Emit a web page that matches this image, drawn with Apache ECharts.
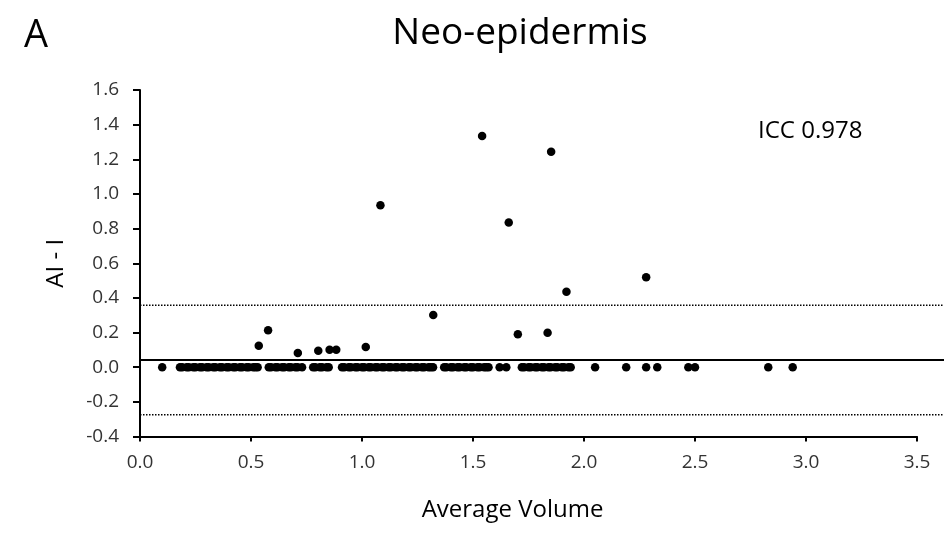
<!DOCTYPE html>
<html>
<head>
<meta charset="utf-8">
<script src="https://cdn.jsdelivr.net/npm/echarts@6/dist/echarts.min.js"></script>
<style>html,body{margin:0;padding:0;background:#fff}#c{width:948px;height:535px}</style>
</head>
<body>
<div id="c"></div>
<script>
// Average volume (x) and AI - I difference (y) for points off zero
const offZeroX = [1.541, 1.852, 1.661, 1.921, 2.280, 1.702, 1.836, 0.535, 0.577, 0.711, 0.803, 0.854, 0.884, 1.017, 1.321, 1.083];
const offZeroY = [1.334, 1.243, 0.835, 0.436, 0.519, 0.190, 0.199, 0.124, 0.213, 0.082, 0.095, 0.101, 0.101, 0.116, 0.301, 0.935];
// Average volume of points with zero difference
const zeroX = [0.10,
  0.18, 0.19, 0.21, 0.22, 0.24, 0.25, 0.27, 0.28, 0.30, 0.31, 0.33, 0.34, 0.36, 0.37, 0.39, 0.40, 0.42, 0.43, 0.45, 0.46, 0.48, 0.49, 0.51, 0.52, 0.53,
  0.58, 0.59, 0.61, 0.62, 0.64, 0.65, 0.67, 0.68, 0.70, 0.71, 0.73,
  0.78, 0.79, 0.81, 0.82, 0.84, 0.85,
  0.91, 0.92, 0.94, 0.95, 0.97, 0.98, 1.00, 1.01, 1.03, 1.04, 1.06, 1.07, 1.09, 1.10, 1.12, 1.13, 1.15, 1.16, 1.18, 1.19, 1.21, 1.22, 1.24, 1.25, 1.27, 1.28, 1.30, 1.31, 1.32,
  1.37, 1.38, 1.40, 1.41, 1.43, 1.44, 1.46, 1.47, 1.49, 1.50, 1.52, 1.53, 1.55, 1.56, 1.57,
  1.62, 1.65,
  1.72, 1.73, 1.75, 1.76, 1.78, 1.79, 1.81, 1.82, 1.84, 1.85, 1.87, 1.88, 1.90, 1.91, 1.93, 1.94,
  2.05, 2.19, 2.28, 2.33, 2.47, 2.50, 2.83, 2.94];
// Bias and limits of agreement
const meanDiff = 0.042;
const upperLoA = 0.358;
const lowerLoA = -0.274;
const lineSpanX = [0, 3.624];
// Axis settings
const xRange = [0, 3.5, 0.5];
const yRange = [-0.4, 1.6, 0.2];
const titleText = 'Neo-epidermis';
const panelText = 'A';
const iccText = 'ICC 0.978';
const xName = 'Average Volume';
const yName = 'AI - I';

const pts = [];
offZeroX.forEach((x, i) => pts.push([x, offZeroY[i]]));
zeroX.forEach(x => pts.push([x, 0]));

const font = 'Open Sans';
const chart = echarts.init(document.getElementById('c'), null, {renderer: 'canvas'});
const hLine = (v, type, w) => ({
  type: 'line', xAxisIndex: 1, yAxisIndex: 1, silent: true, showSymbol: false, symbol: 'none',
  data: [[lineSpanX[0], v], [lineSpanX[1], v]],
  lineStyle: {color: '#000', width: w, type: type}, z: 1
});
chart.setOption({
  animation: false,
  backgroundColor: '#fff',
  title: [
    {text: panelText, left: 19, top: 12, textStyle: {fontFamily: font, fontSize: 38, fontWeight: 'normal', color: '#000'}},
    {text: titleText, left: 515, textAlign: 'center', top: 10, textStyle: {fontFamily: font, fontSize: 37, fontWeight: 'normal', color: '#000'}},
    {text: iccText, left: 753, top: 114, textStyle: {fontFamily: font, fontSize: 24, fontWeight: 'normal', color: '#000'}}
  ],
  grid: [
    {left: 140, right: 31, top: 90, bottom: 98.5, containLabel: false},
    {left: 140, right: 4, top: 90, bottom: 98.5, containLabel: false}
  ],
  xAxis: [{
    type: 'value', gridIndex: 0, min: xRange[0], max: xRange[1], interval: xRange[2],
    name: xName, nameLocation: 'middle', nameGap: 62,
    nameTextStyle: {fontFamily: font, fontSize: 24, color: '#000', padding: [0, 32, 0, 0]},
    axisLine: {show: true, onZero: false, lineStyle: {color: '#000', width: 2}},
    axisTick: {show: true, inside: false, length: 5, lineStyle: {color: '#000', width: 2}},
    axisLabel: {fontFamily: font, fontSize: 19, color: '#333', margin: 17, formatter: v => v.toFixed(1)},
    splitLine: {show: false}
  }, {
    type: 'value', gridIndex: 1, min: lineSpanX[0], max: lineSpanX[1], show: false
  }],
  yAxis: [{
    type: 'value', gridIndex: 0, min: yRange[0], max: yRange[1], interval: yRange[2],
    name: yName, nameLocation: 'middle', nameGap: 72, nameRotate: 90,
    nameTextStyle: {fontFamily: font, fontSize: 24, color: '#000'},
    axisLine: {show: true, onZero: false, lineStyle: {color: '#000', width: 2}},
    axisTick: {show: true, inside: false, length: 7, lineStyle: {color: '#000', width: 2}},
    axisLabel: {fontFamily: font, fontSize: 19, color: '#333', margin: 21, formatter: v => v.toFixed(1)},
    splitLine: {show: false}
  }, {
    type: 'value', gridIndex: 1, min: yRange[0], max: yRange[1], show: false
  }],
  series: [
    hLine(meanDiff, 'solid', 2),
    hLine(upperLoA, 'dotted', 1.5),
    hLine(lowerLoA, 'dotted', 1.5),
    {
      type: 'scatter', xAxisIndex: 0, yAxisIndex: 0, data: pts, symbol: 'circle', symbolSize: 8.5,
      itemStyle: {color: '#000', opacity: 1}, z: 5, silent: true
    }
  ]
});
</script>
</body>
</html>
